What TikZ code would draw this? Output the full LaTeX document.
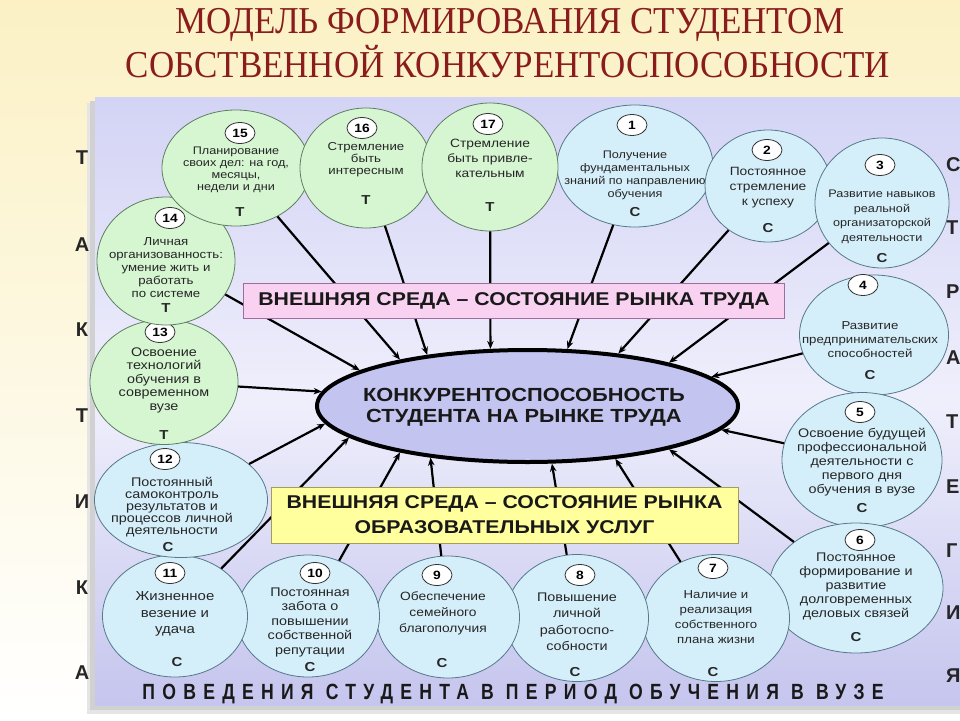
\documentclass[tikz,border=0pt]{standalone}
\usepackage{fontspec}
\setmainfont[FakeStretch=1.15]{Liberation Sans}
\newfontfamily\titulfont[FakeStretch=0.92]{Liberation Serif}
\newfontfamily\razrfont[FakeStretch=0.8,LetterSpace=33]{Liberation Sans}
\newfontfamily\bokfont{Liberation Sans}
\usetikzlibrary{arrows.meta,positioning,shapes.geometric}

\definecolor{krem}{HTML}{FBF1C5}
\definecolor{lavverh}{HTML}{D3D3F5}
\definecolor{lavsered}{HTML}{EFEFFC}
\definecolor{lavniz}{HTML}{C5C5EE}
\definecolor{zelen}{HTML}{D6F6D2}
\definecolor{zelenkant}{HTML}{5E7E62}
\definecolor{goluboj}{HTML}{D5EFFA}
\definecolor{golubkant}{HTML}{55788A}
\definecolor{yadro}{HTML}{C4C4F0}
\definecolor{rozov}{HTML}{F9D2F2}
\definecolor{rozkant}{HTML}{9E6C9E}
\definecolor{zhelt}{HTML}{FFFF9E}
\definecolor{zheltkant}{HTML}{A89A5A}
\definecolor{titulkrasn}{HTML}{8A1C1C}

\tikzset{%
	krug/.style     = {draw, ellipse, inner sep=0pt, line width=0.8pt},
	zkrug/.style    = {krug, fill=zelen, draw=zelenkant}, % T
	gkrug/.style    = {krug, fill=goluboj, draw=golubkant}, % C
	nomer/.style    = {draw=black!80, fill=white, ellipse, line width=0.8pt, minimum width=30pt, minimum height=21pt, inner sep=0pt, font=\bfseries\fontsize{12}{12}\selectfont},
	tekst/.style    = {align=center, inner sep=0pt, text=black!85},
	bukva/.style    = {inner sep=0pt, text=black!85, font=\bfseries\fontsize{13}{13}\selectfont},
	sreda/.style    = {draw, rectangle, inner sep=0pt, align=center, text=black!90, font=\bfseries\fontsize{18.5}{25}\selectfont},
	arrow/.style    = {line width=2.2pt, -{Stealth[length=8pt,width=6.5pt]}},
	bokovaja/.style = {inner sep=0pt, text=black!85, font=\bokfont\bfseries\fontsize{20}{20}\selectfont},
	zagolovok/.style= {inner sep=0pt, text=titulkrasn, font=\titulfont\fontsize{38}{38}\selectfont},
}

\begin{document}
\begin{tikzpicture}[x=1pt,y=-1pt]
	\clip (0,0) rectangle (960,720);
	\shade[top color=krem, bottom color=white] (0,0) rectangle (960,720);
	% panel with shadow
	\fill[black!10] (87,103) rectangle (966,714);
	\fill[black!18] (90,101) rectangle (966,710);
	\shade[top color=lavverh, bottom color=lavniz, middle color=lavsered] (95,97) rectangle (966,705);
	
	\node[zagolovok] (zag1) at (510,25) {МОДЕЛЬ ФОРМИРОВАНИЯ СТУДЕНТОМ};
	\node[zagolovok] (zag2) at (508,62) {СОБСТВЕННОЙ КОНКУРЕНТОСПОСОБНОСТИ};
	
	% TAKTIKA / STRATEGIYA
	\node[bokovaja] (tak1) at (82,158) {Т};
	\node[bokovaja] (tak2) at (82,245) {А};
	\node[bokovaja] (tak3) at (82,330) {К};
	\node[bokovaja] (tak4) at (82,416) {Т};
	\node[bokovaja] (tak5) at (82,502) {И};
	\node[bokovaja] (tak6) at (82,588) {К};
	\node[bokovaja] (tak7) at (82,673) {А};
	\node[bokovaja, anchor=west] (str1) at (946,165) {С};
	\node[bokovaja, anchor=west] (str2) at (946,228) {Т};
	\node[bokovaja, anchor=west] (str3) at (946,292) {Р};
	\node[bokovaja, anchor=west] (str4) at (946,358) {А};
	\node[bokovaja, anchor=west] (str5) at (946,422) {Т};
	\node[bokovaja, anchor=west] (str6) at (946,487) {Е};
	\node[bokovaja, anchor=west] (str7) at (946,551) {Г};
	\node[bokovaja, anchor=west] (str8) at (946,613) {И};
	\node[bokovaja, anchor=west] (str9) at (946,676) {Я};
	
	% circles
	\node[gkrug, minimum width=156, minimum height=122] (k1) at (635,166) {};
	\node[tekst, font=\fontsize{11}{13}\selectfont] (t1) at (635,175) {Получение\\фундаментальных\\знаний по направлению\\обучения};
	\node[nomer] (n1) at (632,125) {1};
	\node[bukva] (b1) at (635,212) {С};
	
	\node[gkrug, minimum width=126, minimum height=112] (k2) at (768,186) {};
	\node[tekst, font=\fontsize{12}{15}\selectfont] (t2) at (768,188) {Постоянное\\стремление\\к успеху};
	\node[nomer] (n2) at (767,150) {2};
	\node[bukva] (b2) at (768,228) {С};
	
	\node[gkrug, minimum width=134, minimum height=130] (k3) at (882,203) {};
	\node[tekst, font=\fontsize{11}{14.5}\selectfont] (t3) at (882,217) {Развитие навыков\\реальной\\организаторской\\деятельности};
	\node[nomer] (n3) at (880,165) {3};
	\node[bukva] (b3) at (882,258) {С};
	
	\node[gkrug, minimum width=149, minimum height=120] (k4) at (874,335) {};
	\node[tekst, font=\fontsize{11.5}{14}\selectfont] (t4) at (870,340) {Развитие\\предпринимательских\\способностей};
	\node[nomer] (n4) at (863,285) {4};
	\node[bukva] (b4) at (870,375) {С};
	
	\node[gkrug, minimum width=160, minimum height=135] (k5) at (862,460) {};
	\node[tekst, font=\fontsize{12.5}{14}\selectfont] (t5) at (862,462) {Освоение будущей\\профессиональной\\деятельности с\\первого дня\\обучения в вузе};
	\node[nomer] (n5) at (860,412) {5};
	\node[bukva] (b5) at (862,508) {С};
	
	\node[gkrug, minimum width=174, minimum height=130] (k6) at (856,588) {};
	\node[tekst, font=\fontsize{12.5}{14}\selectfont] (t6) at (856,586) {Постоянное\\формирование и\\развитие\\долговременных\\деловых связей};
	\node[nomer] (n6) at (860,540) {6};
	\node[bukva] (b6) at (856,637) {С};
	
	\node[gkrug, minimum width=147, minimum height=127] (k7) at (716,618) {};
	\node[tekst, font=\fontsize{11.5}{15}\selectfont] (t7) at (716,617) {Наличие и\\реализация\\собственного\\плана жизни};
	\node[nomer] (n7) at (713,568) {7};
	\node[bukva] (b7) at (713,672) {С};
	
	\node[gkrug, minimum width=143, minimum height=127] (k8) at (577,618) {};
	\node[tekst, font=\fontsize{12.5}{16.5}\selectfont] (t8) at (577,622) {Повышение\\личной\\работоспо-\\собности};
	\node[nomer] (n8) at (580,575) {8};
	\node[bukva] (b8) at (575,672) {С};
	
	\node[gkrug, minimum width=143, minimum height=122] (k9) at (448,617) {};
	\node[tekst, font=\fontsize{12}{16}\selectfont] (t9) at (443,613) {Обеспечение\\семейного\\благополучия};
	\node[nomer] (n9) at (437,575) {9};
	\node[bukva] (b9) at (442,663) {С};
	
	\node[gkrug, minimum width=143, minimum height=122] (k10) at (308,616) {};
	\node[tekst, font=\fontsize{12.5}{14.5}\selectfont] (t10) at (310,622) {Постоянная\\забота о\\повышении\\собственной\\репутации};
	\node[nomer] (n10) at (315,573) {10};
	\node[bukva] (b10) at (310,667) {С};
	
	\node[gkrug, minimum width=145, minimum height=122] (k11) at (175,616) {};
	\node[tekst, font=\fontsize{13}{16.5}\selectfont] (t11) at (175,614) {Жизненное\\везение и\\удача};
	\node[nomer] (n11) at (170,573) {11};
	\node[bukva] (b11) at (177,662) {С};
	
	\node[gkrug, minimum width=173, minimum height=115] (k12) at (181,500) {};
	\node[tekst, font=\fontsize{12.5}{12}\selectfont] (t12) at (172,507) {Постоянный\\самоконтроль\\результатов и\\процессов личной\\деятельности};
	\node[nomer] (n12) at (165,459) {12};
	\node[bukva] (b12) at (168,547) {С};
	
	\node[zkrug, minimum width=148, minimum height=125] (k13) at (164,382) {};
	\node[tekst, font=\fontsize{12.5}{13.5}\selectfont] (t13) at (164,380) {Освоение\\технологий\\обучения в\\современном\\вузе};
	\node[nomer] (n13) at (160,332) {13};
	\node[bukva] (b13) at (164,435) {Т};
	
	\node[zkrug, minimum width=138, minimum height=128] (k14) at (166,261) {};
	\node[tekst, font=\fontsize{11.5}{13}\selectfont] (t14) at (166,268) {Личная\\организованность:\\умение жить и\\работать\\по системе};
	\node[nomer] (n14) at (170,218) {14};
	\node[bukva] (b14) at (166,308) {Т};
	
	\node[zkrug, minimum width=148, minimum height=116] (k15) at (236,168) {};
	\node[tekst, font=\fontsize{11}{12}\selectfont] (t15) at (236,170) {Планирование\\своих дел: на год,\\месяцы,\\недели и дни};
	\node[nomer] (n15) at (240,133) {15};
	\node[bukva] (b15) at (240,212) {Т};
	
	\node[zkrug, minimum width=132, minimum height=120] (k16) at (366,168) {};
	\node[tekst, font=\fontsize{11.5}{12}\selectfont] (t16) at (366,160) {Стремление\\быть\\интересным};
	\node[nomer] (n16) at (362,128) {16};
	\node[bukva] (b16) at (366,200) {Т};
	
	\node[zkrug, minimum width=136, minimum height=128] (k17) at (490,167) {};
	\node[tekst, font=\fontsize{12}{15}\selectfont] (t17) at (490,158) {Стремление\\быть привле-\\кательным};
	\node[nomer] (n17) at (488,124) {17};
	\node[bukva] (b17) at (490,207) {Т};
	
	% centre
	\node[ellipse, draw, line width=4pt, fill=yadro, inner sep=0pt, minimum width=421, minimum height=112] (core) at (527.5,406) {};
	\node[tekst, text=black!90, font=\bfseries\fontsize{19}{21}\selectfont] (tcore) at (524,407) {КОНКУРЕНТОСПОСОБНОСТЬ\\СТУДЕНТА НА РЫНКЕ ТРУДА};
	
	\draw[arrow] (k1) -- (core.55.6);
	\draw[arrow] (k2) -- (core.30.6);
	\draw[arrow] (k3) -- (core.17.2);
	\draw[arrow] (k4) -- (core.9.7);
	\draw[arrow] (k5) -- (core.-7.3);
	\draw[arrow] (k6) -- (core.-17.8);
	\draw[arrow] (k7) -- (core.-31.7);
	\draw[arrow] (k8) -- (core.-67.6);
	\draw[arrow] (k9) -- (core.208.5);
	\draw[arrow] (k10) -- (core.200.2);
	\draw[arrow] (k11) -- (core.190.5);
	\draw[arrow] (k12) -- (core.185.4);
	\draw[arrow] (k13) -- (core.176.6);
	\draw[arrow] (k14) -- (core.168.4);
	\draw[arrow] (k15) -- (core.160.9);
	\draw[arrow] (k16) -- (core.153.4);
	\draw[arrow] (k17) -- (core.123.7);
	
	\node[sreda, fill=rozov, draw=rozkant, minimum width=541, minimum height=35] (rynok) at (514,300.5) {ВНЕШНЯЯ СРЕДА – СОСТОЯНИЕ РЫНКА ТРУДА};
	\node[sreda, fill=zhelt, draw=zheltkant, minimum width=467, minimum height=56] (uslugi) at (504.5,515) {ВНЕШНЯЯ СРЕДА – СОСТОЯНИЕ РЫНКА\\ОБРАЗОВАТЕЛЬНЫХ УСЛУГ};
	
	\node[inner sep=0pt, text=black!90, font=\razrfont\bfseries\fontsize{22}{22}\selectfont] (povedenie) at (513,694) {ПОВЕДЕНИЯ СТУДЕНТА В ПЕРИОД ОБУЧЕНИЯ В ВУЗЕ};
\end{tikzpicture}
\end{document}
